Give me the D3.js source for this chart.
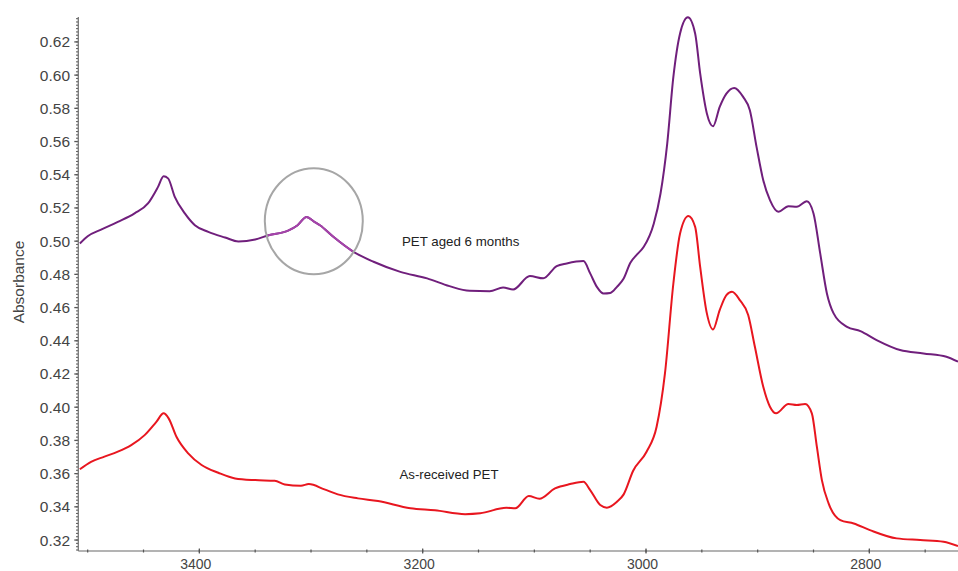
<!DOCTYPE html>
<html>
<head>
<meta charset="utf-8">
<script src="https://cdn.jsdelivr.net/npm/d3@7"></script>
<style>
  html, body { margin: 0; padding: 0; background: #fff; }
  svg { display: block; font-family: "Liberation Sans", Arial, sans-serif; }
</style>
</head>
<body>
<svg id="chart" width="958" height="571"></svg>
<script>
// IR absorbance spectra (wavenumber in cm^-1, decreasing to the right)
const agedWavenumber = [3507, 3500, 3488, 3473, 3458, 3446, 3437, 3432, 3428, 3422, 3413, 3404, 3392, 3377, 3365, 3350, 3338, 3321, 3312, 3304, 3297, 3292, 3280, 3262, 3244, 3220, 3196, 3176, 3158, 3140, 3128, 3119, 3104, 3092, 3080, 3071, 3056, 3050, 3044, 3038, 3032, 3026, 3020, 3014, 3008, 3002, 2993, 2987, 2981, 2975.5, 2969.5, 2962.5, 2956, 2951.5, 2945.5, 2940, 2934, 2928, 2921, 2913, 2907, 2901, 2895, 2889, 2881.5, 2872.5, 2865, 2856, 2850, 2844, 2838, 2832, 2820, 2808, 2793.5, 2772.5, 2751.5, 2731, 2720.6];
const agedAbsorbance = [0.4986, 0.5030, 0.5070, 0.5116, 0.5167, 0.5227, 0.5327, 0.5391, 0.5378, 0.5267, 0.5167, 0.5096, 0.5056, 0.5022, 0.4998, 0.5010, 0.5036, 0.5062, 0.5096, 0.5146, 0.5116, 0.5096, 0.5026, 0.4936, 0.4876, 0.4815, 0.4776, 0.4729, 0.4701, 0.4699, 0.4721, 0.4709, 0.4790, 0.4776, 0.4850, 0.4866, 0.4880, 0.4806, 0.4725, 0.4685, 0.4688, 0.4725, 0.4775, 0.4870, 0.4920, 0.4966, 0.5107, 0.5287, 0.5588, 0.5989, 0.6251, 0.6348, 0.6251, 0.6010, 0.5769, 0.5692, 0.5809, 0.5889, 0.5923, 0.5869, 0.5789, 0.5568, 0.5367, 0.5247, 0.5177, 0.5211, 0.5207, 0.5240, 0.5167, 0.4926, 0.4685, 0.4565, 0.4484, 0.4458, 0.4404, 0.4344, 0.4324, 0.4304, 0.4274];

const receivedWavenumber = [3507, 3497, 3485, 3473, 3461, 3449, 3438.5, 3432, 3427.5, 3420.5, 3410, 3398, 3383, 3368, 3350, 3332.5, 3323.5, 3309, 3302, 3288, 3276, 3258, 3240, 3211, 3189, 3162, 3148.5, 3125, 3117, 3105, 3095.5, 3081.5, 3068, 3056, 3050, 3041, 3035, 3026, 3020, 3011.5, 2999.5, 2990.5, 2983, 2975.5, 2969.5, 2962, 2956, 2951.5, 2945.5, 2940, 2934, 2928, 2923, 2916, 2908.5, 2902.5, 2895, 2889, 2883.5, 2872.5, 2865, 2857.5, 2851.5, 2847, 2842.5, 2836.5, 2826, 2814, 2799.5, 2775.5, 2754.5, 2733.5, 2720.6];
const receivedAbsorbance = [0.3626, 0.3671, 0.3702, 0.3732, 0.3772, 0.3832, 0.3912, 0.3963, 0.3933, 0.3822, 0.3722, 0.3652, 0.3605, 0.3571, 0.3561, 0.3557, 0.3535, 0.3527, 0.3537, 0.3505, 0.3475, 0.3451, 0.3435, 0.3391, 0.3379, 0.3356, 0.3361, 0.3394, 0.3391, 0.3465, 0.3449, 0.3511, 0.3537, 0.3551, 0.3501, 0.3411, 0.3395, 0.3431, 0.3475, 0.3617, 0.3732, 0.3882, 0.4205, 0.4745, 0.5046, 0.5151, 0.5086, 0.4845, 0.4565, 0.4468, 0.4585, 0.4675, 0.4695, 0.4645, 0.4555, 0.4364, 0.4123, 0.4003, 0.3963, 0.4019, 0.4013, 0.4019, 0.3963, 0.3762, 0.3561, 0.3421, 0.3320, 0.3300, 0.3260, 0.3210, 0.3200, 0.3190, 0.3164];

const yTickValues = [0.32, 0.34, 0.36, 0.38, 0.40, 0.42, 0.44, 0.46, 0.48, 0.50, 0.52, 0.54, 0.56, 0.58, 0.60, 0.62];
const xTickValues = [3400, 3200, 3000, 2800];

const seriesLabels = ["PET aged 6 months", "As-received PET"];
const yAxisTitle = "Absorbance";

// highlighted band on the aged spectrum
const highlightCenter = [3297.5, 0.512];

(function () {
  const svg = d3.select("#chart");
  const plotLeft = 78.3, plotRight = 958, plotTop = 17, plotBottom = 551;

  const x = d3.scaleLinear().domain([3508.4, 2720.6]).range([plotLeft, plotRight]);
  const y = d3.scaleLinear().domain([0.3134, 0.6350]).range([plotBottom, plotTop]);

  const aged = agedWavenumber.map((w, i) => [w, agedAbsorbance[i]]);
  const received = receivedWavenumber.map((w, i) => [w, receivedAbsorbance[i]]);

  const line = d3.line()
    .x(d => x(d[0]))
    .y(d => y(d[1]))
    .curve(d3.curveMonotoneX);

  // x axis: line with major (200) and minor (50) ticks
  const xg = svg.append("g");
  xg.append("line")
    .attr("x1", plotLeft).attr("x2", plotRight)
    .attr("y1", plotBottom).attr("y2", plotBottom)
    .attr("stroke", "#9a9a9a").attr("stroke-width", 1.6);
  const xMinor = d3.range(3500, 2720, -50);
  xg.selectAll("line.minor").data(xMinor).join("line")
    .attr("class", "minor")
    .attr("x1", d => x(d)).attr("x2", d => x(d))
    .attr("y1", plotBottom - 1.5).attr("y2", plotBottom + 1.5)
    .attr("stroke", "#555").attr("stroke-width", 1.2);
  xg.selectAll("line.major").data(xTickValues).join("line")
    .attr("class", "major")
    .attr("x1", d => x(d)).attr("x2", d => x(d))
    .attr("y1", plotBottom - 2.5).attr("y2", plotBottom + 2.5)
    .attr("stroke", "#555").attr("stroke-width", 1.2);
  xg.selectAll("text").data(xTickValues).join("text")
    .attr("x", d => x(d) - 3.5)
    .attr("y", 569)
    .attr("text-anchor", "middle")
    .attr("font-size", 14)
    .attr("fill", "#444")
    .text(d => d3.format("d")(d));

  // y axis: line with major (0.02) and minor (0.002) ticks
  const yg = svg.append("g");
  const yMinor = d3.range(0.314, 0.6351, 0.002);
  yg.selectAll("line.minor").data(yMinor).join("line")
    .attr("class", "minor")
    .attr("x1", plotLeft - 2.2).attr("x2", plotLeft)
    .attr("y1", d => y(d)).attr("y2", d => y(d))
    .attr("stroke", "#555").attr("stroke-width", 1.1);
  yg.selectAll("line.major").data(yTickValues).join("line")
    .attr("class", "major")
    .attr("x1", plotLeft - 4).attr("x2", plotLeft)
    .attr("y1", d => y(d)).attr("y2", d => y(d))
    .attr("stroke", "#555").attr("stroke-width", 1.3);
  yg.append("line")
    .attr("x1", plotLeft).attr("x2", plotLeft)
    .attr("y1", plotTop).attr("y2", plotBottom)
    .attr("stroke", "#777").attr("stroke-width", 1.3);
  yg.selectAll("text").data(yTickValues).join("text")
    .attr("x", 70)
    .attr("y", d => y(d) + 5.5)
    .attr("text-anchor", "end")
    .attr("font-size", 15.5)
    .attr("fill", "#444")
    .text(d => d3.format(".2f")(d));

  svg.append("text")
    .attr("transform", "translate(24,282) rotate(-90)")
    .attr("text-anchor", "middle")
    .attr("font-size", 15.5)
    .attr("fill", "#444")
    .text(yAxisTitle);

  // spectra
  svg.append("path").datum(received)
    .attr("d", line)
    .attr("fill", "none")
    .attr("stroke", "#e8161f")
    .attr("stroke-width", 2);

  svg.append("path").datum(aged)
    .attr("d", line)
    .attr("fill", "none")
    .attr("stroke", "#701f7c")
    .attr("stroke-width", 2);

  // lighter tint of the aged trace inside the highlight
  const cx = x(highlightCenter[0]), cy = y(highlightCenter[1]);
  svg.append("clipPath").attr("id", "hl")
    .append("ellipse").attr("cx", cx).attr("cy", cy).attr("rx", 49).attr("ry", 53);
  svg.append("path").datum(aged)
    .attr("d", line)
    .attr("fill", "none")
    .attr("stroke", "#a544aa")
    .attr("stroke-width", 2)
    .attr("clip-path", "url(#hl)");

  svg.append("ellipse")
    .attr("cx", cx).attr("cy", cy).attr("rx", 49).attr("ry", 53)
    .attr("fill", "none")
    .attr("stroke", "#a6a6a6")
    .attr("stroke-width", 2);

  // series labels
  svg.append("text")
    .attr("x", 402).attr("y", 245.5)
    .attr("font-size", 13.3).attr("fill", "#222")
    .text(seriesLabels[0]);
  svg.append("text")
    .attr("x", 399.5).attr("y", 478.5)
    .attr("font-size", 13.2).attr("fill", "#222")
    .text(seriesLabels[1]);
})();
</script>
</body>
</html>
